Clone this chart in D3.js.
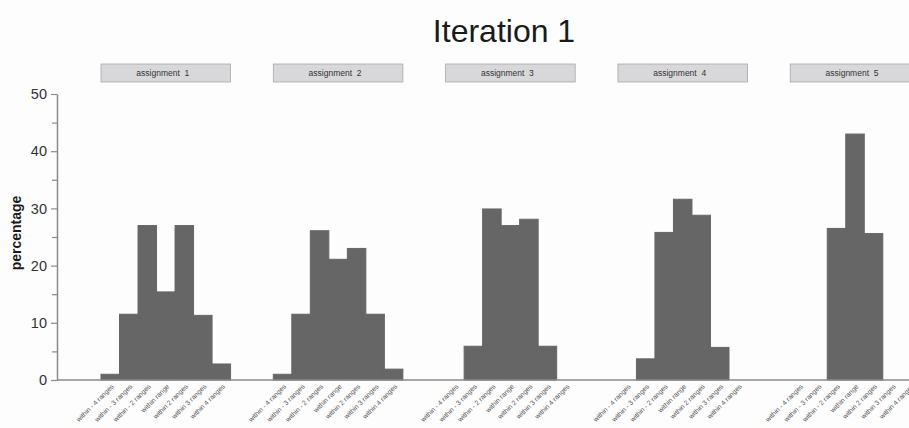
<!DOCTYPE html>
<html>
<head>
<meta charset="utf-8">
<script src="https://cdn.jsdelivr.net/npm/d3@7"></script>
<style>
  html, body { margin: 0; padding: 0; background: #fdfdfe; }
  svg { display: block; font-family: "Liberation Sans", Arial, sans-serif; }
</style>
</head>
<body>
<svg id="chart" width="909" height="428"></svg>
<script>
const title = "Iteration 1";
const yLabel = "percentage";
const categories = ["within - 4 ranges", "within - 3 ranges", "within - 2 ranges", "within range", "within 2 ranges", "within 3 ranges", "within 4 ranges"];
const assignments = ["assignment 1", "assignment 2", "assignment 3", "assignment 4", "assignment 5"];
const assignment1 = [1.0, 11.5, 27.0, 15.4, 27.0, 11.3, 2.8];
const assignment2 = [1.0, 11.5, 26.1, 21.1, 23.0, 11.5, 1.9];
const assignment3 = [0, 5.9, 29.9, 27.0, 28.1, 5.9, 0];
const assignment4 = [0, 3.7, 25.8, 31.6, 28.8, 5.7, 0];
const assignment5 = [0, 0, 26.5, 43.0, 25.6, 0, 0];
const seriesValues = [assignment1, assignment2, assignment3, assignment4, assignment5];
const yTicks = [0, 10, 20, 30, 40, 50];
const yMinorTicks = [5, 15, 25, 35, 45];

const svg = d3.select("#chart");
const W = 909, H = 428;

const y = d3.scaleLinear().domain([0, 50]).range([380, 94]);
const panel = d3.scaleBand().domain(assignments).range([101, 919.8]).paddingInner(0.248).paddingOuter(0);
const inner = d3.scaleBand().domain(categories).range([0, panel.bandwidth()]).padding(0);

// Title
svg.append("text")
  .attr("x", 504).attr("y", 42)
  .attr("text-anchor", "middle")
  .attr("font-size", 32)
  .attr("fill", "#1a1a1a")
  .text(title);

// Y axis label
svg.append("text")
  .attr("transform", "translate(21,233) rotate(-90)")
  .attr("text-anchor", "middle")
  .attr("font-size", 14)
  .attr("font-weight", "bold")
  .attr("fill", "#1a1a1a")
  .text(yLabel);

// Y axis
const yAxis = d3.axisLeft(y).tickValues(yTicks).tickSize(6).tickSizeOuter(0).tickPadding(4);
const gY = svg.append("g").attr("transform", "translate(57,0)").call(yAxis);
gY.select(".domain").attr("stroke", "#8a8a8a").attr("stroke-width", 1.5);
gY.selectAll(".tick line").attr("stroke", "#8a8a8a").attr("stroke-width", 1.2);
gY.selectAll(".tick text").attr("font-size", 14.5).attr("fill", "#333").attr("font-family", "'Liberation Sans', Arial, sans-serif");
const yAxisMinor = d3.axisLeft(y).tickValues(yMinorTicks).tickSize(5).tickFormat("");
const gYm = svg.append("g").attr("transform", "translate(57,0)").call(yAxisMinor);
gYm.select(".domain").remove();
gYm.selectAll(".tick line").attr("stroke", "#8a8a8a").attr("stroke-width", 1.2);

// Panels
const panels = svg.selectAll("g.panel")
  .data(assignments.map((a, i) => ({ name: a, values: seriesValues[i] })))
  .join("g")
  .attr("class", "panel")
  .attr("transform", d => `translate(${panel(d.name)},0)`);

// Strips
panels.append("rect")
  .attr("x", 0).attr("y", 64)
  .attr("width", panel.bandwidth()).attr("height", 18)
  .attr("fill", "#d8d8da")
  .attr("stroke", "#a8a8a8")
  .attr("stroke-width", 0.8);
panels.append("text")
  .attr("x", panel.bandwidth() / 2 - 3).attr("y", 76)
  .attr("text-anchor", "middle")
  .attr("font-size", 8.5)
  .attr("fill", "#333")
  .attr("xml:space", "preserve")
  .text(d => d.name.replace(" ", "  "));

// Bars
panels.selectAll("rect.bar")
  .data(d => d.values.map((v, j) => ({ cat: categories[j], v })))
  .join("rect")
  .attr("class", "bar")
  .attr("x", d => inner(d.cat))
  .attr("width", inner.bandwidth())
  .attr("y", d => y(d.v))
  .attr("height", d => y(0) - y(d.v))
  .attr("fill", "#666666")
  .attr("stroke", d => d.v > 0 ? "#666666" : "none")
  .attr("stroke-width", 1);

// X axis line
svg.append("line")
  .attr("x1", 57).attr("x2", W)
  .attr("y1", y(0)).attr("y2", y(0))
  .attr("stroke", "#8a8a8a").attr("stroke-width", 1.5);

// X tick labels (rotated)
panels.each(function() {
  const g = d3.select(this);
  const ax = d3.axisBottom(inner).tickSize(0).tickPadding(0);
  const gx = g.append("g").attr("transform", `translate(0,${y(0) + 4})`).call(ax);
  gx.select(".domain").remove();
  gx.selectAll(".tick text")
    .attr("font-size", 6.8)
    .attr("fill", "#555")
    .attr("text-anchor", "end")
    .attr("dy", 0)
    .attr("transform", "translate(4,3) rotate(-45)");
});
</script>
</body>
</html>
